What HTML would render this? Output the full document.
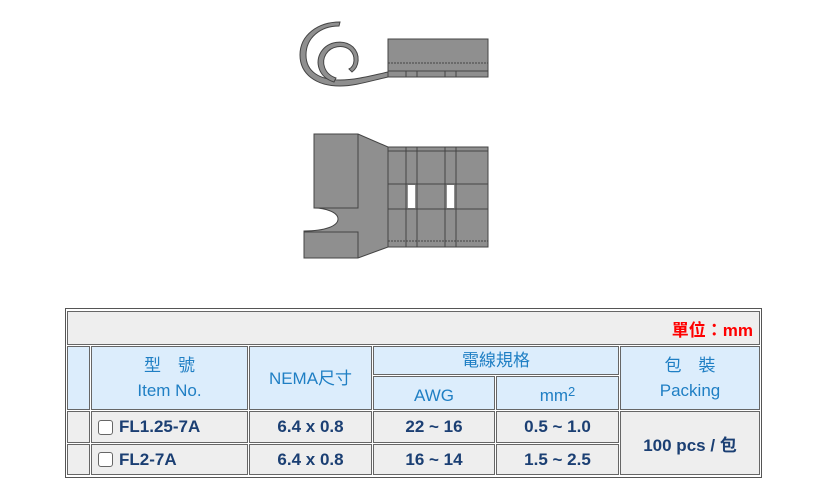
<!DOCTYPE html>
<html><head><meta charset="utf-8"><style>
body{margin:0;width:836px;height:482px;background:#fff;position:relative;overflow:hidden;font-family:"Liberation Sans","Noto Sans CJK TC",sans-serif}
.c{position:absolute;box-sizing:border-box;border:1px solid #666;display:flex;align-items:center;justify-content:center;text-align:center}
.h{background:#dcedfc;color:#1f7fc4;font-size:17px;line-height:25px}
.g{background:#eeeeee}
.d{color:#1b3f73;font-weight:bold;font-size:17px}
.cb{display:inline-block;width:13px;height:13px;border:1px solid #666;border-radius:3px;background:#fff;margin-right:6px;vertical-align:-1px}
</style></head><body>
<svg width="836" height="300" style="position:absolute;left:0;top:0">
<g fill="#8f8f8f" stroke="#444" stroke-width="1">
<path d="M339,26 C320,26 306,38 306,55 C306,72 320,80 340,80 C355,80 370,76 388,72 L388,77 C370,81 355,86 340,86 C316,86 300,74 300,55 C300,35 318,22 340,22 Z"/>
<path d="M349,69 C355,66 356,56 350,50 C343,44 331,46 326,54 C321,62 324,74 336,78 L334,82 C318,77 315,62 321,52 C328,41 344,39 353,47 C361,55 359,67 352,72 Z"/>
<rect x="388" y="39" width="100" height="38"/>
<path d="M314,134 L358,134 L388,147 L488,147 L488,247 L388,247 L358,258 L304,258 L304,231 C325,231 338,226 338,219 C338,212 325,208 314,208 Z"/>
</g>
<g stroke="#444" stroke-width="1" fill="none">
<line x1="388" y1="63" x2="488" y2="63" stroke-dasharray="2,1"/>
<line x1="388" y1="71" x2="488" y2="71"/>
<path d="M406,71V77M417,71V77M445,71V77M456,71V77"/>
<path d="M358,134V208H314M304,232H358V258"/>
<path d="M388,147V247M406,147V247M417,147V247M445,147V247M456,147V247"/>
<path d="M388,151H488M388,184H488M388,209H488"/>
<line x1="388" y1="241" x2="488" y2="241" stroke-dasharray="2,1"/>
</g>
<rect x="408" y="185" width="7" height="23" fill="#fff"/>
<rect x="447" y="185" width="7" height="23" fill="#fff"/>
</svg>
<div style="position:absolute;left:65px;top:308px;width:697px;height:170px;border:1px solid #555;box-sizing:border-box;background:#fff"></div>
<div class="c g" style="left:67px;top:311px;width:693px;height:34px;justify-content:flex-end;padding-right:6px;color:#f00;font-weight:bold;font-size:17px">單位：mm</div>
<div class="c h" style="left:67px;top:346px;width:23px;height:64px"></div>
<div class="c h" style="left:91px;top:346px;width:157px;height:64px">型　號<br>Item No.</div>
<div class="c h" style="left:249px;top:346px;width:123px;height:64px">NEMA尺寸</div>
<div class="c h" style="left:373px;top:346px;width:246px;height:29px">電線規格</div>
<div class="c h" style="left:373px;top:376px;width:122px;height:34px;padding-top:4px">AWG</div>
<div class="c h" style="left:496px;top:376px;width:123px;height:34px;padding-top:4px">mm<sup style="font-size:13px;line-height:0;position:relative;top:-3px">2</sup></div>
<div class="c h" style="left:620px;top:346px;width:140px;height:64px">包　裝<br>Packing</div>
<div class="c g" style="left:67px;top:411px;width:23px;height:32px"></div>
<div class="c g d" style="left:91px;top:411px;width:157px;height:32px;justify-content:flex-start;padding-left:6px"><span class="cb"></span>FL1.25-7A</div>
<div class="c g d" style="left:249px;top:411px;width:123px;height:32px">6.4 x 0.8</div>
<div class="c g d" style="left:373px;top:411px;width:122px;height:32px">22 ~ 16</div>
<div class="c g d" style="left:496px;top:411px;width:123px;height:32px">0.5 ~ 1.0</div>
<div class="c g d" style="left:620px;top:411px;width:140px;height:64px">100 pcs / 包</div>
<div class="c g" style="left:67px;top:444px;width:23px;height:31px"></div>
<div class="c g d" style="left:91px;top:444px;width:157px;height:31px;justify-content:flex-start;padding-left:6px"><span class="cb"></span>FL2-7A</div>
<div class="c g d" style="left:249px;top:444px;width:123px;height:31px">6.4 x 0.8</div>
<div class="c g d" style="left:373px;top:444px;width:122px;height:31px">16 ~ 14</div>
<div class="c g d" style="left:496px;top:444px;width:123px;height:31px">1.5 ~ 2.5</div>
</body></html>
